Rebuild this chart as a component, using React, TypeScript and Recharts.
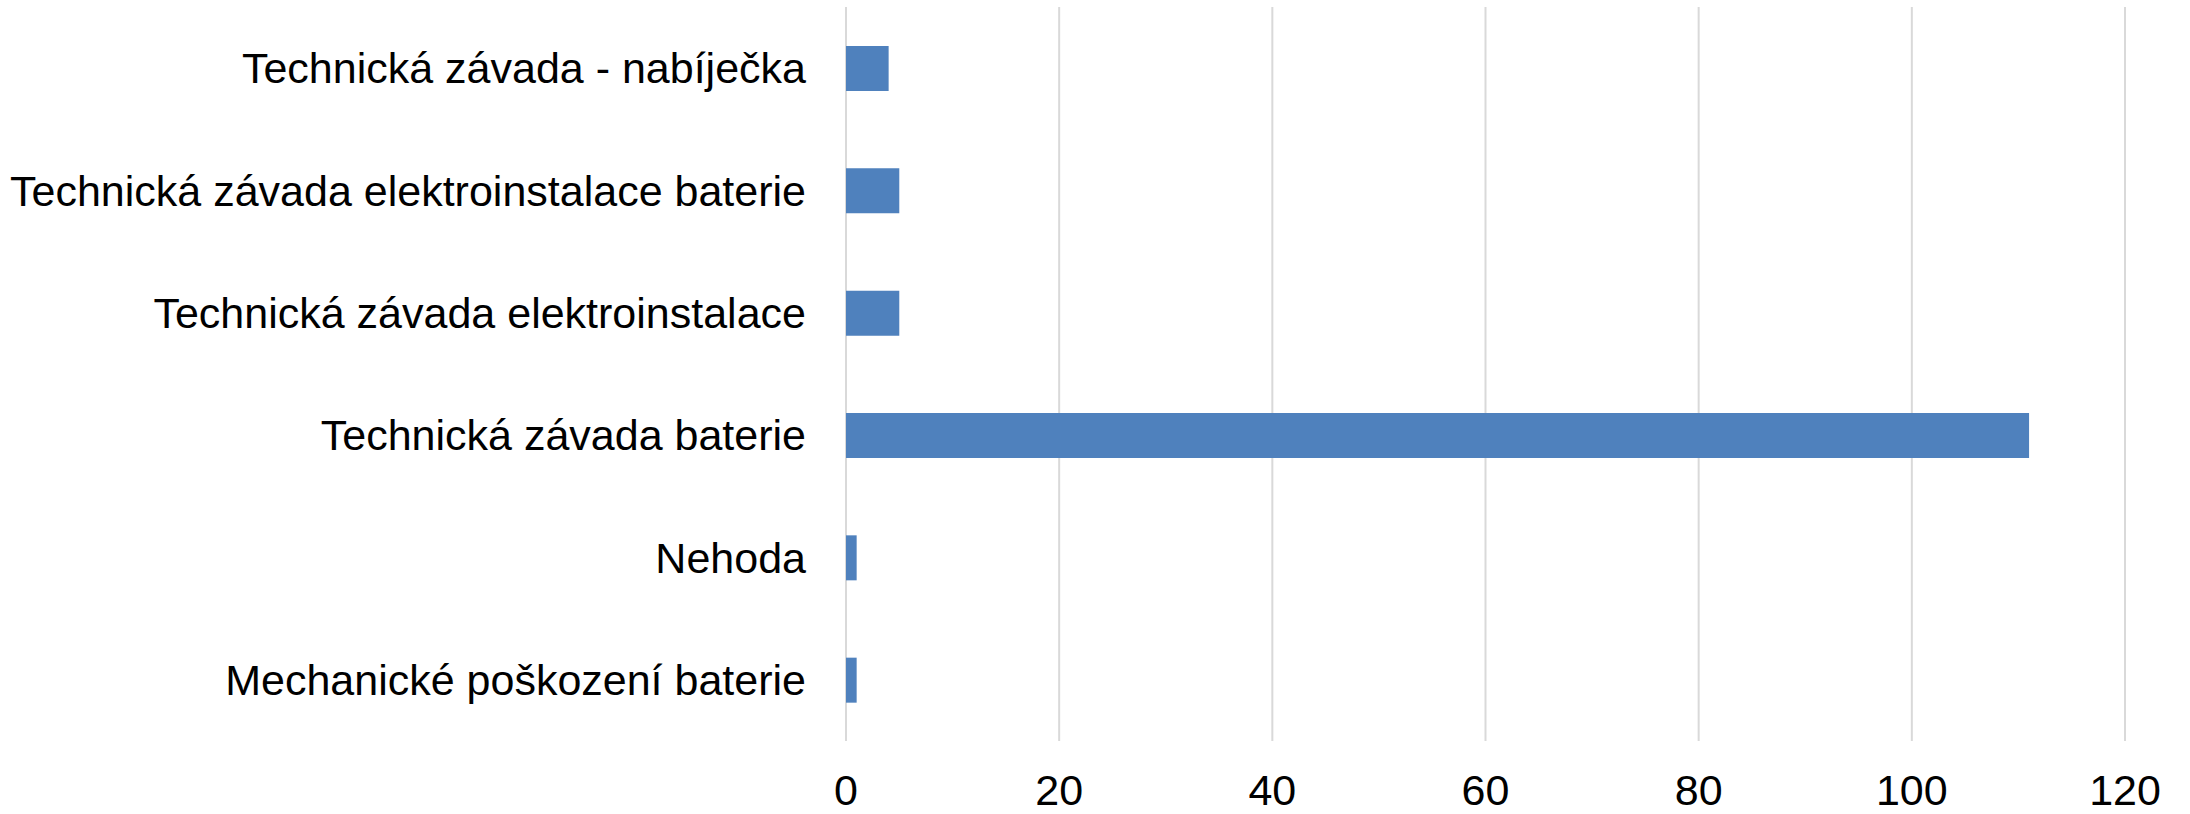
import React from "react";
import { BarChart, Bar, XAxis, YAxis, CartesianGrid } from "recharts";

// categories top to bottom, as in the picture
const categories = [
  "Technická závada - nabíječka",
  "Technická závada elektroinstalace baterie",
  "Technická závada elektroinstalace",
  "Technická závada baterie",
  "Nehoda",
  "Mechanické poškození baterie",
];
const counts = [4, 5, 5, 111, 1, 1];
const xTicks = [0, 20, 40, 60, 80, 100, 120];

const data = categories.map((name, i) => ({ name, value: counts[i] }));

const font = "'Liberation Sans', Arial, sans-serif";

const App: React.FC = () => {
  return (
    <div style={{ position: "absolute", left: 0, top: 0, background: "#fff" }}>
      <style>{"body{margin:0}"}</style>
      <BarChart
        width={2190}
        height={814}
        data={data}
        layout="vertical"
        margin={{ top: 7, right: 65, left: 0, bottom: 0 }}
      >
        <CartesianGrid horizontal={false} stroke="#d9d9d9" strokeWidth={2} />
        <XAxis
          type="number"
          domain={[0, 120]}
          ticks={xTicks}
          axisLine={false}
          tickLine={false}
          tickSize={0}
          tickMargin={33}
          height={73}
          interval={0}
          tick={{ fill: "#000", fontSize: 43, fontFamily: font }}
        />
        <YAxis
          type="category"
          dataKey="name"
          width={846}
          axisLine={false}
          tickLine={false}
          tickSize={0}
          tickMargin={40}
          interval={0}
          tick={{ fill: "#000", fontSize: 43, fontFamily: font }}
        />
        <Bar dataKey="value" fill="#4f81bd" barSize={45} isAnimationActive={false} />
      </BarChart>
    </div>
  );
};

export default App;
